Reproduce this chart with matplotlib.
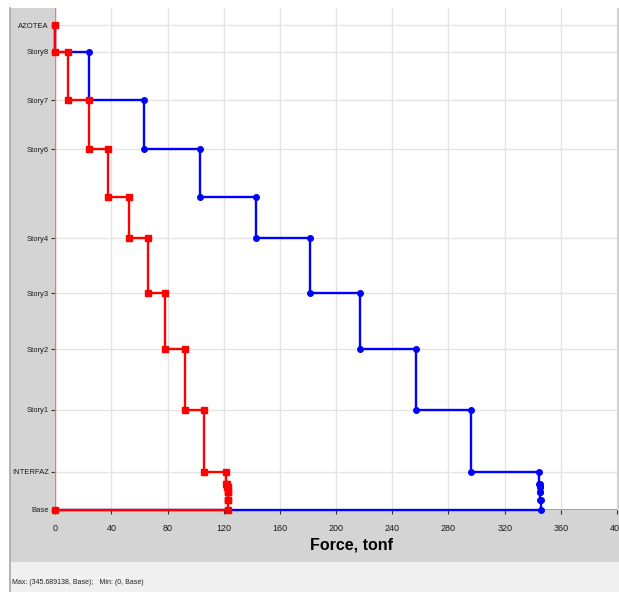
import matplotlib.pyplot as plt
from matplotlib.patches import Rectangle
from matplotlib.lines import Line2D

plt.rcParams['font.family'] = ['Liberation Sans Narrow', 'Liberation Sans', 'DejaVu Sans']

# niveles de abajo hacia arriba, elevacion (m)
niveles = ["Base", "B1", "B2", "B3", "B4", "INTERFAZ", "Story1", "Story2", "Story3",
           "Story4", "Story5", "Story6", "Story7", "Story8", "AZOTEA"]
elev = [0.0, 0.6, 1.08, 1.38, 1.56, 2.28, 6.0, 9.66, 13.02, 16.32, 18.78, 21.66, 24.6, 27.48, 29.1]
etiquetas = ["Base", "INTERFAZ", "Story1", "Story2", "Story3", "Story4",
             "Story6", "Story7", "Story8", "AZOTEA"]

# cortante por piso (tramo entre nivel i-1 y nivel i), de abajo hacia arriba
cort_rojo = [123.2, 123.0, 122.8, 122.5, 121.8, 105.9, 92.4, 78.1, 66.2, 52.7, 37.7, 23.8, 9.3, 0.0]
cort_azul = [345.69, 345.5, 345.3, 345.0, 344.4, 296.1, 256.9, 217.0, 181.4, 143.0, 103.0, 63.2, 24.2, 0.0]

xticks = list(range(0, 401, 40))


def escalones(cort):
    xs, ys = [], []
    for i in range(len(cort), 0, -1):
        xs += [cort[i - 1], cort[i - 1]]
        ys += [elev[i], elev[i - 1]]
    xs.append(0)
    ys.append(elev[0])
    return xs, ys


fig = plt.figure(figsize=(6.19, 5.92), dpi=100)
W, H = 619.0, 592.0

# paneles de fondo
fig.add_artist(Rectangle((10 / W, 30 / H), 609 / W, 554 / H, transform=fig.transFigure,
                         facecolor='#d4d4d4', edgecolor='none', zorder=0))
fig.add_artist(Rectangle((10 / W, 0), 609 / W, 30 / H, transform=fig.transFigure,
                         facecolor='#f0f0f0', edgecolor='none', zorder=0))
fig.add_artist(Line2D([10 / W, 10 / W], [0, 584 / H], transform=fig.transFigure,
                      color='#a8a8a8', lw=1.2))

ax = fig.add_axes([55.3 / W, 82 / H, (617 - 55.3) / W, (510 - 8) / H])
ax.set_xlim(0, 400)
ax.set_ylim(0, 30.12)
for s in ax.spines.values():
    s.set_visible(False)

ax.set_xticks(xticks)
ax.set_xticklabels([str(v) for v in xticks])
ax.set_yticks([elev[niveles.index(n)] for n in etiquetas])
ax.set_yticklabels(etiquetas)
ax.tick_params(labelsize=5.5, length=3, width=0.8, color='#333333', labelcolor='#1a1a1a', pad=1.5)
ax.tick_params(axis='x', labelsize=6.5, pad=7)
ax.grid(color='#e4e4e4', lw=1)
ax.set_axisbelow(True)

ax.axvline(0, color='#ff7070', lw=1, zorder=1)
ax.axhline(0, color='#ff7070', lw=2, zorder=1)

xa, ya = escalones(cort_azul)
ax.plot(xa, ya, color='#0000ff', lw=1.7, marker='o', ms=4, zorder=3, clip_on=False)
xr, yr = escalones(cort_rojo)
ax.plot(xr, yr, color='#ff0000', lw=1.7, marker='s', ms=4, zorder=4, clip_on=False)

fig.text(310 / W, 1 - 545 / H, "Force, tonf", ha='left', va='center', fontsize=11.5,
         fontweight='bold', family=['Liberation Sans', 'DejaVu Sans'])
fig.text(12 / W, 1 - 583 / H, "Max: (345.689138, Base);   Min: (0, Base)", ha='left',
         va='center', fontsize=5, color='#222222')

fig.savefig('out.png', dpi=100)
